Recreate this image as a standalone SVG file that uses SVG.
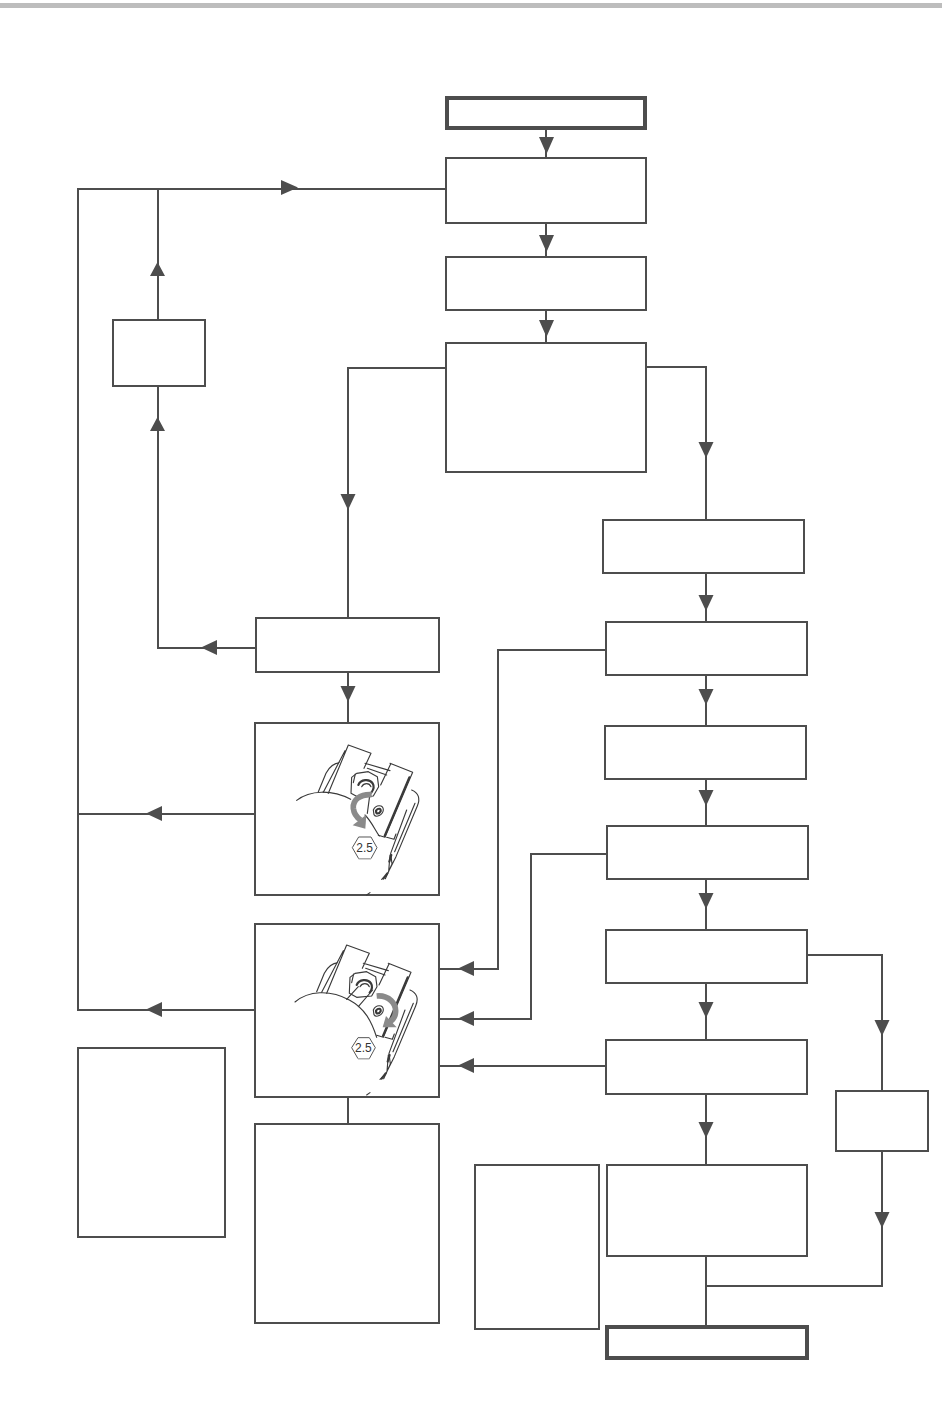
<svg xmlns="http://www.w3.org/2000/svg" width="950" height="1402" viewBox="0 0 950 1402">
<style>
.n{fill:#fff;stroke:#4d4d4d;stroke-width:2}
.t{fill:#fff;stroke:#4d4d4d;stroke-width:4}
.c{fill:none;stroke:#4d4d4d;stroke-width:2}
.a{fill:#4d4d4d;stroke:none}
.d{fill:none;stroke:#3a3a3a;stroke-width:3.400px;stroke-linejoin:round;stroke-linecap:round}
.b{fill:none;stroke:#3a3a3a;stroke-width:6.500px;stroke-linejoin:round;stroke-linecap:round}
.w{fill:#fff;stroke:#3a3a3a;stroke-width:3.400px;stroke-linejoin:round}
.r{fill:none;stroke:#8a8a8a;stroke-width:17px}
.ah{fill:#8a8a8a}
.hx{fill:#fff;stroke:#555;stroke-width:3px;stroke-linejoin:round}
.l{font-family:"Liberation Sans",Arial,sans-serif;font-size:36px;fill:#333;text-anchor:middle}
</style>
<defs>
<g id="mech">
<path class="d" d="M85 155L108 100C116 84 128 70 150 68"/>
<path class="w" d="M100 155L148 68L175 15L243 40L225 85L300 100L300 70L368 97L285 292L262 285L240 240L180 178L130 158Z" style="stroke:none"/>
<path class="d" d="M100 157L165 32M115 160L175 15L243 40L222 85M225 70L300 92M232 85L290 105"/>
<path class="d" d="M300 70L368 97L285 292L265 286M302 72L272 135"/>
<path class="b" d="M358 112L284 288"/>
<path class="d" d="M365 150C385 158 392 175 382 198L318 350L292 402L275 418M350 210L302 340L306 372L286 416M375 190L314 335M300 345L296 395"/>
<path class="b" d="M304 345L298 365M292 400L280 416"/>
<path class="d" d="M290 292L312 298L318 282"/>
</g>
</defs>
<rect x="0" y="3" width="942" height="5" fill="#bdbdbd"/>
<g id="connectors">
<path class="c" d="M546 128V158M546 223V257M546 310V343"/>
<path class="c" d="M446 189H78V1010H255M158 189V320M158 386V648H256M78 814H255"/>
<path class="c" d="M446 368H348V618M348 672V723"/>
<path class="c" d="M646 367H706V520M706 573V622M706 675V726M706 779V826M706 879V930M706 983V1040M706 1094V1165M706 1256V1327"/>
<path class="c" d="M606 650H498V969H439M607 854H531V1019H439M606 1066H439"/>
<path class="c" d="M807 955H882V1091M882 1151V1286H706M348 1097V1124"/>
<path class="a" d="M539 137H554L546.500 154ZM539 235H554L546.500 252ZM539 320H554L546.500 337Z"/>
<path class="a" d="M281 180V195L298 187.500ZM150 276H165L157.500 262ZM150 431H165L157.500 417ZM217 640V655L201 647.500ZM162 806V821L146 813.500ZM162 1002V1017L146 1009.500Z"/>
<path class="a" d="M340.500 494H355.500L348 510ZM340.500 686H355.500L348 702Z"/>
<path class="a" d="M698.500 442H713.500L706 458ZM698.500 595H713.500L706 611ZM698.500 689H713.500L706 705ZM698.500 790H713.500L706 806ZM698.500 893H713.500L706 909ZM698.500 1002H713.500L706 1018ZM698.500 1122H713.500L706 1138Z"/>
<path class="a" d="M874.500 1020H889.500L882 1036ZM874.500 1212H889.500L882 1228Z"/>
<path class="a" d="M474 961V976L458 968.500ZM474 1011V1026L458 1018.500ZM474 1058V1073L458 1065.500Z"/>
</g>
<g id="start"><rect class="t" x="447" y="98" width="198" height="30"/></g>
<g id="step1"><rect class="n" x="446" y="158" width="200" height="65"/></g>
<g id="step2"><rect class="n" x="446" y="257" width="200" height="53"/></g>
<g id="decision"><rect class="n" x="446" y="343" width="200" height="129"/></g>
<g id="left-small"><rect class="n" x="113" y="320" width="92" height="66"/></g>
<g id="r1"><rect class="n" x="603" y="520" width="201" height="53"/></g>
<g id="r2"><rect class="n" x="606" y="622" width="201" height="53"/></g>
<g id="r3"><rect class="n" x="605" y="726" width="201" height="53"/></g>
<g id="r4"><rect class="n" x="607" y="826" width="201" height="53"/></g>
<g id="r5"><rect class="n" x="606" y="930" width="201" height="53"/></g>
<g id="r6"><rect class="n" x="606" y="1040" width="201" height="54"/></g>
<g id="r7"><rect class="n" x="607" y="1165" width="200" height="91"/></g>
<g id="end"><rect class="t" x="607" y="1327" width="200" height="31"/></g>
<g id="far-right"><rect class="n" x="836" y="1091" width="92" height="60"/></g>
<g id="left-action"><rect class="n" x="256" y="618" width="183" height="54"/></g>
<g id="note-left"><rect class="n" x="78" y="1048" width="147" height="189"/></g>
<g id="note-mid"><rect class="n" x="255" y="1124" width="184" height="199"/></g>
<g id="note-right"><rect class="n" x="475" y="1165" width="124" height="164"/></g>
<g id="illustration-1">
<rect class="n" x="255" y="723" width="184" height="172"/>
<g transform="translate(290 740) scale(.3333)">
<use href="#mech"/>
<path class="d" d="M20 181C60 150 125 148 182 178M225 225C245 245 255 270 268 288"/>
<path class="w" d="M185 112L200 100L235 95L262 110L266 140L250 168L205 172L183 160Z"/>
<path class="b" d="M205 135C212 118 238 115 248 130C254 140 250 150 244 158"/>
<path class="d" d="M215 140C222 128 238 128 243 140M196 102L190 128"/>
<path class="w" d="M250 210C258 192 280 194 280 210C278 226 258 234 252 224Z"/>
<path class="b" d="M258 212C264 204 274 204 272 214C268 222 258 224 258 212Z"/>
<path class="d" d="M240 160L232 220"/>
<path class="r" d="M245 164C210 162 188 180 190 205C192 222 200 232 212 240"/>
<path class="ah" d="M188 256L226 266L229 224Z"/>
<path class="hx" d="M187 323L206 291H243L261 323L243 356H206Z"/>
<path d="M206 356H243" stroke="#aaa" stroke-width="4"/>
<text class="l" x="224" y="336">2.5</text>
</g>
<path class="d" transform="translate(255 720) scale(.3333)" d="M345 518L335 525"/>
</g>
<g id="illustration-2">
<rect class="n" x="255" y="924" width="184" height="173"/>
<g transform="translate(290 940) scale(.3333)">
<g transform="translate(-5 0)"><use href="#mech"/></g>
<path class="d" d="M15 186C55 152 120 148 178 180C225 205 245 245 260 292"/>
<path class="w" d="M180 112L195 100L230 95L257 110L261 140L245 168L200 172L178 160Z"/>
<path class="b" d="M200 135C207 118 233 115 243 130C249 140 245 150 239 158"/>
<path class="d" d="M210 140C217 128 233 128 238 140M191 102L185 128M170 178L205 140M205 200L248 150"/>
<path class="w" d="M250 210C258 192 280 194 280 210C278 226 258 234 252 224Z"/>
<path class="b" d="M258 212C264 204 274 204 272 214C268 222 258 224 258 212Z"/>
<path class="r" d="M260 168C295 165 322 190 316 222C314 234 308 240 298 246"/>
<path class="ah" d="M278 262L320 262L288 228Z"/>
<path class="hx" d="M185 323L204 293H238L256 323L238 356H204Z"/>
<path d="M204 356H238" stroke="#aaa" stroke-width="4"/>
<text class="l" x="220" y="337">2.5</text>
</g>
<path class="d" transform="translate(255 920) scale(.3333)" d="M345 518L335 525"/>
</g>
</svg>
